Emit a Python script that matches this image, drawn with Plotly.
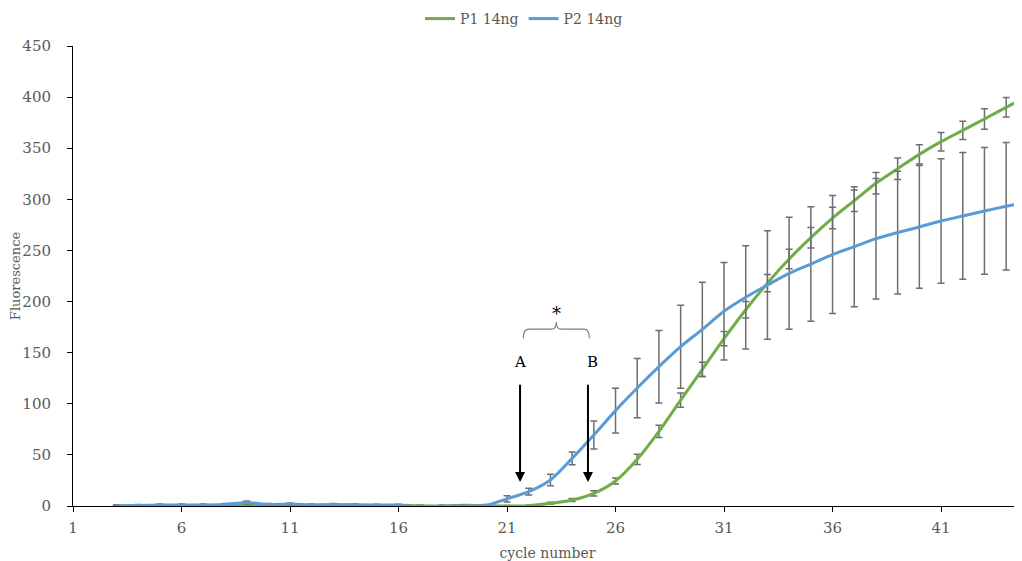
import plotly.graph_objects as go

cycles = list(range(3, 46))

p1_values = [0.2, 0.3, 0.5, 0.5, 0.5, 0.8, 1.5, 1.0, 1.0, 0.8, 1.0, 1.0, 1.0, 1.0, 0.2, 0.0, 0.8, 0.5,
             0.0, 0.3, 2.6, 5.9, 12.4, 24.5, 45.7, 73.0, 103.5, 133.7, 163.7, 192.0, 218.0, 241.6,
             262.5, 281.7, 298.7, 315.7, 330.0, 344.0, 356.4, 367.5, 378.6, 390.0, 401.0]
p1_errors = [0.5] * 18 + [0.5, 0.5, 1.0, 1.5, 2.5, 3.0, 5.0, 6.0, 7.0, 7.0, 7.0, 8.0, 8.5, 9.5,
                         10.0, 10.5, 10.5, 10.5, 10.5, 9.5, 9.0, 9.0, 10.0, 9.5, 9.5]

p2_values = [0.0, 0.5, 1.0, 1.0, 1.0, 1.5, 3.5, 1.5, 2.0, 1.0, 1.5, 1.0, 0.5, 0.5, -0.5, -0.3, 0.0, 0.5,
             7.0, 14.0, 25.4, 46.6, 69.5, 93.3, 115.4, 136.3, 155.9, 172.8, 190.5, 204.2, 216.2,
             227.6, 236.7, 246.0, 253.7, 261.5, 267.5, 273.0, 278.8, 283.7, 288.6, 293.2, 297.5]
p2_errors = [1.0] * 6 + [1.5] + [1.0] * 11 + [3.0, 3.3, 5.7, 6.2, 13.7, 22.0, 29.0, 35.5, 40.6, 46.0,
                                             47.6, 50.5, 53.0, 54.8, 56.0, 57.8, 58.7, 59.0, 60.0,
                                             60.0, 61.0, 62.0, 62.0, 62.3, 62.5]

x_ticks = [1, 6, 11, 16, 21, 26, 31, 36, 41]
y_ticks = [0, 50, 100, 150, 200, 250, 300, 350, 400, 450]

FONT = "DejaVu Serif"
GREY = "#595959"
ERR = "#6e6e6e"

fig = go.Figure()
fig.add_trace(go.Scatter(
    x=cycles, y=p1_values, name="P1 14ng", mode="lines",
    line=dict(color="#70AD47", width=3, shape="spline", smoothing=0.8),
    error_y=dict(type="data", array=p1_errors, visible=True, color=ERR, thickness=1.5, width=3.5),
))
fig.add_trace(go.Scatter(
    x=cycles, y=p2_values, name="P2 14ng", mode="lines",
    line=dict(color="#5B9BD5", width=3, shape="spline", smoothing=0.8),
    error_y=dict(type="data", array=p2_errors, visible=True, color=ERR, thickness=1.5, width=3.5),
))

# annotation arrows A and B
arrow_a_x, arrow_b_x = 21.6, 24.73
arrow_tip, arrow_tail = 23.5, 120
for ax_pos in (arrow_a_x, arrow_b_x):
    fig.add_annotation(x=ax_pos, y=arrow_tip, ax=ax_pos, ay=arrow_tail, axref="x", ayref="y",
                       xref="x", yref="y", text="", showarrow=True, arrowhead=2, arrowsize=1,
                       arrowwidth=2, arrowcolor="black")
fig.add_annotation(x=arrow_a_x, y=141, text="A", showarrow=False,
                   font=dict(family=FONT, size=15, color="black"))
fig.add_annotation(x=24.95, y=141, text="B", showarrow=False,
                   font=dict(family=FONT, size=15, color="black"))
fig.add_annotation(x=23.27, y=188, text="*", showarrow=False,
                   font=dict(family=FONT, size=18, color="black"))

# brace
fig.add_shape(type="path", xref="x", yref="y",
              path="M 21.75,164 Q 21.75,173 22.0,173 L 23.05,173 Q 23.27,173 23.27,180 "
                   "Q 23.27,173 23.49,173 L 24.55,173 Q 24.79,173 24.79,164",
              line=dict(color="#7f7f7f", width=1.2))

# page body has an 8px margin: shrink the figure so the plot area lands where the reference has it
W, H = 1014, 553
fig.update_layout(
    width=W, height=H,
    margin=dict(l=65, r=0, t=38, b=55, autoexpand=False),
    paper_bgcolor="white", plot_bgcolor="white",
    font=dict(family=FONT, size=14, color=GREY),
    showlegend=True,
    legend=dict(orientation="h", x=(524 - 73) / 949, xanchor="center",
                y=1 - 11 / H, yanchor="middle", yref="container",
                font=dict(family=FONT, size=14, color=GREY), itemwidth=30),
    xaxis=dict(range=[1, 44.73], tickvals=x_ticks, ticktext=[str(v) for v in x_ticks],
               showgrid=False, zeroline=False, showline=True, linecolor="black", linewidth=1,
               ticks="outside", ticklen=5, tickcolor="black", automargin=False,
               ticklabelstandoff=3,
               title=dict(text="cycle number", font=dict(family=FONT, size=14, color=GREY), standoff=13),
               tickfont=dict(family=FONT, size=15, color=GREY)),
    yaxis=dict(range=[0, 450], tickvals=y_ticks, showgrid=False, zeroline=False,
               showline=True, linecolor="black", linewidth=1,
               ticks="outside", ticklen=5, tickcolor="black", automargin=False,
               ticklabelstandoff=13,
               title=dict(text="Fluorescence", font=dict(family=FONT, size=13, color=GREY), standoff=9),
               tickfont=dict(family=FONT, size=15, color=GREY)),
)

fig.write_html("out.html")
